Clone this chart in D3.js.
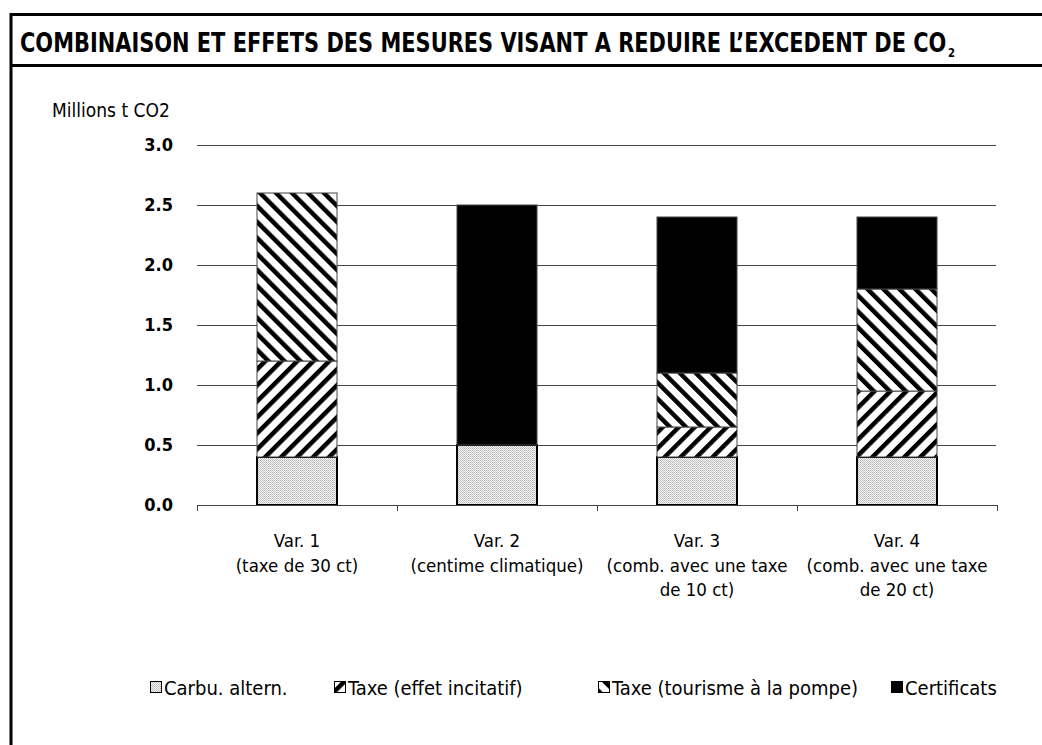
<!DOCTYPE html>
<html><head><meta charset="utf-8">
<script src="https://cdn.jsdelivr.net/npm/d3@7"></script>
<style>
body{margin:0;background:#fff;}
svg{display:block;}
text{font-family:"DejaVu Sans Condensed","DejaVu Sans",sans-serif;font-stretch:condensed;fill:#000;}
</style></head><body>
<svg id="c" width="1042" height="745"></svg>
<script>
const categories = ["Var. 1", "Var. 2", "Var. 3", "Var. 4"];
const categorySublines = [["(taxe de 30 ct)"], ["(centime climatique)"], ["(comb. avec une taxe", "de 10 ct)"], ["(comb. avec une taxe", "de 20 ct)"]];
const seriesNames = ["Carbu. altern.", "Taxe (effet incitatif)", "Taxe (tourisme à la pompe)", "Certificats"];
const carbuAltern = [0.4, 0.5, 0.4, 0.4];
const taxeIncitatif = [0.8, 0, 0.25, 0.55];
const taxeTourisme = [1.4, 0, 0.45, 0.85];
const certificats = [0, 2.0, 1.3, 0.6];
const yTicks = [0, 0.5, 1.0, 1.5, 2.0, 2.5, 3.0];
const title = "COMBINAISON ET EFFETS DES MESURES VISANT A REDUIRE L’EXCEDENT DE CO";
const yUnit = "Millions t CO2";

const svg = d3.select("#c");
const keys = ["carbu", "incit", "tour", "cert"];
const table = categories.map((c, i) => ({cat: c, carbu: carbuAltern[i], incit: taxeIncitatif[i], tour: taxeTourisme[i], cert: certificats[i]}));

// patterns
const defs = svg.append("defs");
const pc = defs.append("pattern").attr("id", "p-carbu").attr("patternUnits", "userSpaceOnUse").attr("width", 2).attr("height", 2);
pc.append("rect").attr("width", 2).attr("height", 2).attr("fill", "#f4f4f4");
pc.append("rect").attr("width", 1).attr("height", 1).attr("fill", "#b8b8b8");
pc.append("rect").attr("x", 1).attr("y", 1).attr("width", 1).attr("height", 1).attr("fill", "#c8c8c8");
function stripes(id, angle) {
  const p = defs.append("pattern").attr("id", id).attr("patternUnits", "userSpaceOnUse")
    .attr("width", 11.3).attr("height", 11.3).attr("patternTransform", `rotate(${angle})`);
  p.append("rect").attr("width", 11.3).attr("height", 11.3).attr("fill", "#fff");
  p.append("rect").attr("width", 4.5).attr("height", 11.3).attr("fill", "#000");
}
stripes("p-incit", 45);
stripes("p-tour", -45);
const fills = {carbu: "url(#p-carbu)", incit: "url(#p-incit)", tour: "url(#p-tour)", cert: "#000"};

// frame
svg.append("line").attr("x1", 10).attr("x2", 1042).attr("y1", 14.5).attr("y2", 14.5).attr("stroke", "#000").attr("stroke-width", 3);
svg.append("line").attr("x1", 10).attr("x2", 1042).attr("y1", 65.5).attr("y2", 65.5).attr("stroke", "#000").attr("stroke-width", 3);
svg.append("line").attr("x1", 11).attr("x2", 11).attr("y1", 13).attr("y2", 745).attr("stroke", "#000").attr("stroke-width", 3);

// title (horizontally condensed to the reference width)
const tg = svg.append("g");
const t = tg.append("text").attr("x", 0).attr("y", 0)
  .style("font-weight", "bold").style("font-size", "27px");
t.append("tspan").text(title);
t.append("tspan").text("2").attr("dx", 2).attr("dy", 5).style("font-size", "13px");
const natural = t.node().getComputedTextLength();
const sx = 934 / natural;
tg.attr("transform", `translate(20,52) scale(${sx},1)`);

// scales
const x = d3.scaleBand().domain(categories).range([197, 997]).paddingInner(0.6).paddingOuter(0.3);
const y = d3.scaleLinear().domain([0, 3]).range([505, 145]);

// grid
svg.append("g").selectAll("line").data(yTicks.filter(d => d > 0)).join("line")
  .attr("x1", 197).attr("x2", 996).attr("y1", d => Math.round(y(d)) + 0.5).attr("y2", d => Math.round(y(d)) + 0.5)
  .attr("stroke", "#444").attr("stroke-width", 1);

// y labels
svg.append("g").selectAll("text").data(yTicks).join("text")
  .attr("x", 173).attr("y", d => y(d)).attr("dy", "0.36em").attr("text-anchor", "end")
  .style("font-weight", "bold").style("font-size", "18px").text(d => d.toFixed(1));
svg.append("text").attr("x", 52).attr("y", 117).style("font-size", "19px").text(yUnit);

// bars
const stacked = d3.stack().keys(keys)(table);
const gBars = svg.append("g");
stacked.forEach(layer => {
  gBars.append("g").selectAll("rect").data(layer.filter(d => d[1] - d[0] > 0)).join("rect")
    .attr("x", d => x(d.data.cat)).attr("width", x.bandwidth())
    .attr("y", d => y(d[1])).attr("height", d => y(d[0]) - y(d[1]))
    .attr("fill", fills[layer.key])
    .attr("stroke", layer.key === "carbu" ? "#000" : "#444")
    .attr("stroke-width", layer.key === "carbu" ? 2 : 1);
});

// x axis
const xAxis = svg.append("g");
const [r0, r1] = x.range();
xAxis.append("line").attr("x1", r0).attr("x2", r1).attr("y1", 505.5).attr("y2", 505.5).attr("stroke", "#444");
const tickXs = d3.range(categories.length + 1).map(i => r0 + i * (r1 - r0) / categories.length);
xAxis.selectAll("line.tk").data(tickXs).join("line").attr("class", "tk")
  .attr("x1", d => d + 0.5).attr("x2", d => d + 0.5).attr("y1", 505).attr("y2", 511).attr("stroke", "#444");
categories.forEach((c, i) => {
  const cx = x(c) + x.bandwidth() / 2;
  const lines = [c].concat(categorySublines[i]);
  const tx = xAxis.append("text").attr("text-anchor", "middle").style("font-size", "18.5px");
  lines.forEach((l, j) => tx.append("tspan").attr("x", cx).attr("y", 547 + j * 24.5).text(l));
});

// legend
const legendX = [150, 334, 598, 891];
const lg = svg.append("g");
keys.forEach((k, i) => {
  lg.append("rect").attr("x", legendX[i] + 0.5).attr("y", 681.5).attr("width", 11).attr("height", 11)
    .attr("fill", fills[k]).attr("stroke", "#000").attr("stroke-width", 1);
  lg.append("text").attr("x", legendX[i] + 14).attr("y", 694.5).style("font-size", "20px").text(seriesNames[i]);
});
</script></body></html>
